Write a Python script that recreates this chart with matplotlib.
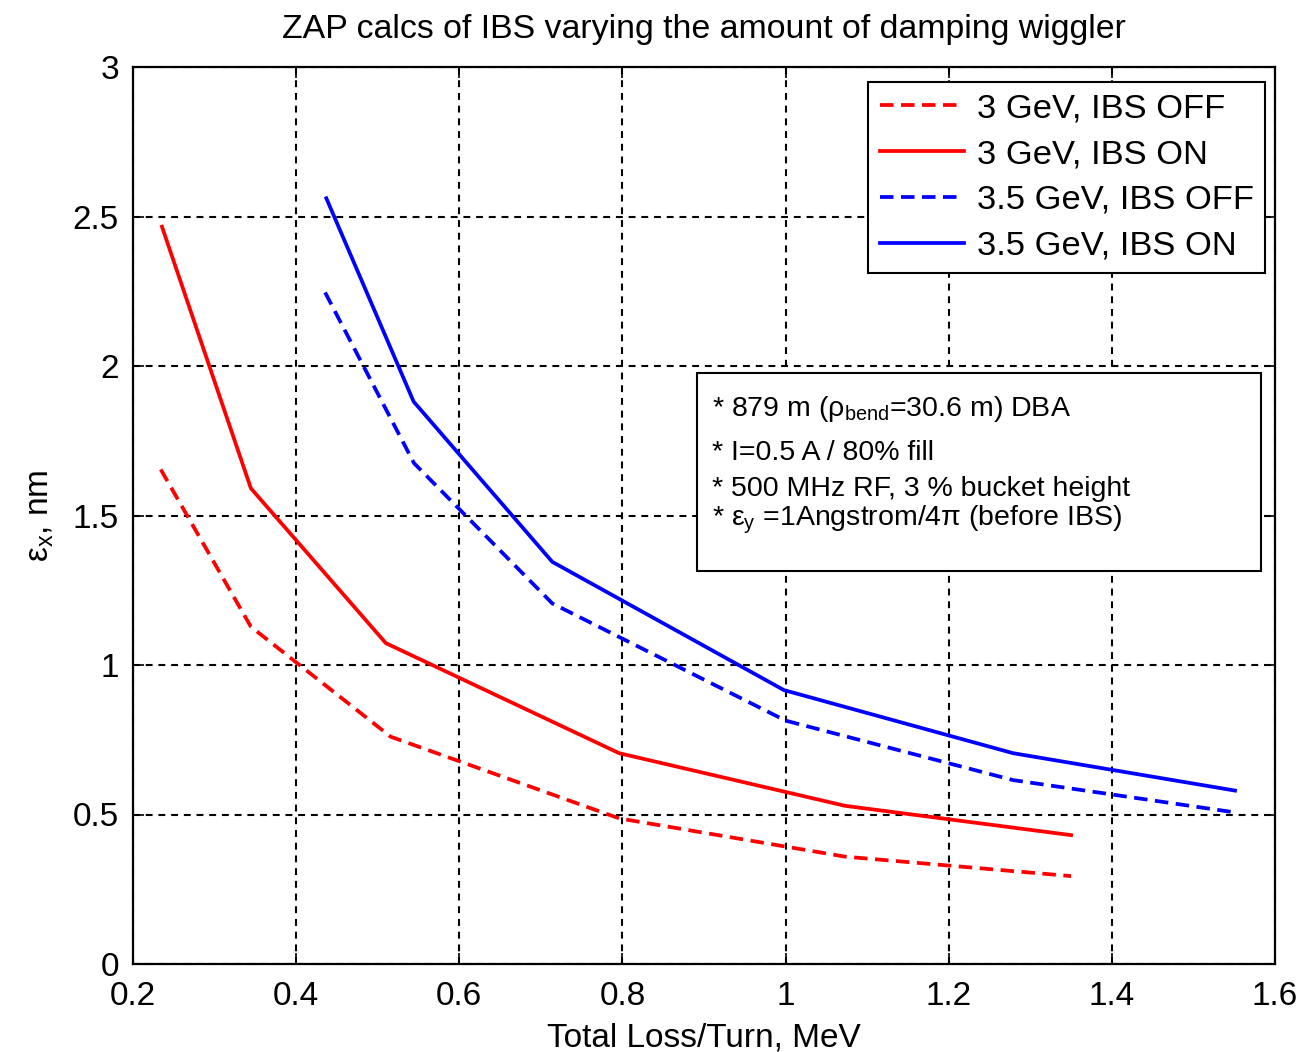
import matplotlib
matplotlib.use("Agg")
import matplotlib.pyplot as plt
from matplotlib.patches import Rectangle

plt.rcParams['font.family'] = ['Liberation Sans', 'DejaVu Sans']
plt.rcParams['mathtext.fontset'] = 'custom'
plt.rcParams['mathtext.rm'] = 'Liberation Sans'
plt.rcParams['mathtext.it'] = 'Liberation Sans'
plt.rcParams['mathtext.default'] = 'regular'

# ---- data ----
x_3gev_off = [0.234, 0.3445, 0.516, 0.796, 1.073, 1.350]
y_3gev_off = [1.654, 1.128, 0.760, 0.487, 0.359, 0.294]

x_3gev_on = [0.2355, 0.3445, 0.510, 0.796, 1.073, 1.350]
y_3gev_on = [2.466, 1.591, 1.073, 0.705, 0.529, 0.431]

x_35gev_off = [0.4355, 0.5445, 0.714, 1.000, 1.279, 1.551]
y_35gev_off = [2.246, 1.675, 1.206, 0.814, 0.615, 0.507]

x_35gev_on = [0.437, 0.544, 0.714, 0.998, 1.279, 1.551]
y_35gev_on = [2.561, 1.881, 1.345, 0.916, 0.705, 0.580]

labels = ["3 GeV, IBS OFF", "3 GeV, IBS ON", "3.5 GeV, IBS OFF", "3.5 GeV, IBS ON"]
xticks = [0.2, 0.4, 0.6, 0.8, 1.0, 1.2, 1.4, 1.6]
xticklabels = ["0.2", "0.4", "0.6", "0.8", "1", "1.2", "1.4", "1.6"]
yticks = [0, 0.5, 1, 1.5, 2, 2.5, 3]
yticklabels = ["0", "0.5", "1", "1.5", "2", "2.5", "3"]
notes = [r"* 879 m ($\rho_{bend}$=30.6 m) DBA",
         "* I=0.5 A / 80% fill",
         "* 500 MHz RF, 3 % bucket height",
         r"* $\varepsilon_y$ =1Angstrom/4$\pi$ (before IBS)"]

W, H = 1301, 1052
fig = plt.figure(figsize=(W / 100, H / 100), dpi=100)
L, R, T, B = 133, 1275, 67, 964
ax = fig.add_axes([L / W, (H - B) / H, (R - L) / W, (B - T) / H])

dash = (0, (3.6, 2.0))
lw = 2.7
ax.plot(x_3gev_off, y_3gev_off, color='#ff0000', lw=lw, linestyle=dash, label=labels[0], zorder=3)
ax.plot(x_3gev_on, y_3gev_on, color='#ff0000', lw=lw, linestyle='-', label=labels[1], zorder=3)
ax.plot(x_35gev_off, y_35gev_off, color='#0000ff', lw=lw, linestyle=dash, label=labels[2], zorder=3)
ax.plot(x_35gev_on, y_35gev_on, color='#0000ff', lw=lw, linestyle='-', label=labels[3], zorder=3)

ax.set_xlim(0.2, 1.6)
ax.set_ylim(0, 3)
ax.set_xticks(xticks)
ax.set_xticklabels(xticklabels)
ax.set_yticks(yticks)
ax.set_yticklabels(yticklabels)
ax.tick_params(direction='in', length=8, width=1.2, top=True, right=True,
               labelsize=24, colors='black')
ax.tick_params(axis='x', pad=12)
ax.tick_params(axis='y', pad=10)
for s in ax.spines.values():
    s.set_linewidth(1.6)
ax.grid(True, color='black', linestyle=(0, (3.3, 2.8)), linewidth=1.5)
ax.set_axisbelow(True)

ax.set_title("ZAP calcs of IBS varying the amount of damping wiggler", fontsize=24.4, pad=21)
ax.set_xlabel("Total Loss/Turn, MeV", fontsize=24, labelpad=8)
ax.set_ylabel(r"$\varepsilon_x$, nm", fontsize=24, labelpad=12)

leg = ax.legend(loc='upper right', bbox_to_anchor=(1 - 10 / 1142, 1 - 15 / 897),
                borderaxespad=0, fontsize=24.8, frameon=True, fancybox=False,
                edgecolor='black', framealpha=1, handlelength=2.45,
                handletextpad=0.38, labelspacing=0.43, borderpad=0.32)
leg.get_frame().set_linewidth(1.5)
leg.set_zorder(5)

# annotation box (data coordinates)
ax.add_patch(Rectangle((0.892, 1.314), 1.583 - 0.892, 1.977 - 1.314,
                       facecolor='white', edgecolor='black', lw=1.5, zorder=4))
note_y = [1.856, 1.709, 1.589, 1.485]
for t, yv in zip(notes, note_y):
    ax.text(0.910, yv, t, fontsize=20.5, va='center', ha='left', zorder=5)

fig.savefig("out.png", dpi=100)
